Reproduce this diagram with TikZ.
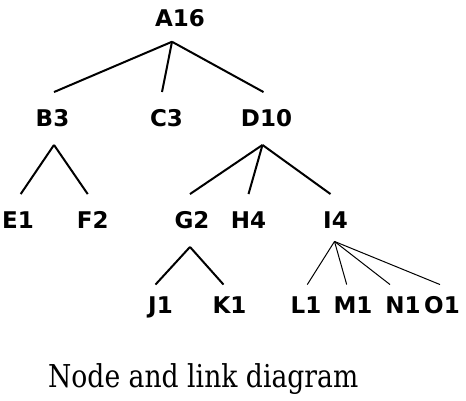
\documentclass[tikz,border=0pt]{standalone}
\usepackage{fontspec}
\setsansfont{DejaVu Sans}
\newfontfamily\captionfont{DejaVu Serif}
\usepackage{tikz}

\begin{document}
\begin{tikzpicture}[x=1pt, y=-1pt,
    tn/.style={font=\sffamily\bfseries\fontsize{23}{25}\selectfont, inner xsep=0pt, inner ysep=18pt, text height=16.5pt, text depth=0pt},
    leaf/.style={tn, inner ysep=12pt},
    link/.style={line width=2pt},
    thinlink/.style={line width=1pt}]

    \useasboundingbox (0,0) rectangle (466,401);

    % Nodes
    \node (A16) [tn, inner ysep=15pt] at (180,18.3) {A16};
    \node (B3) [tn] at (52.5,118.5) {B3};
    \node (C3) [tn] at (166.5,118.5) {C3};
    \node (D10) [tn] at (266.5,118.5) {D10};
    \node (E1) [tn] at (18,220.5) {E1};
    \node (F2) [tn] at (92.7,220.5) {F2};
    \node (G2) [tn] at (192,220.5) {G2};
    \node (H4) [tn] at (248.5,220.5) {H4};
    \node (I4) [tn] at (335.5,220.5) {I4};
    \node (J1) [leaf] at (160.5,305) {J1};
    \node (K1) [leaf] at (229.5,305) {K1};
    \node (L1) [leaf] at (306,305) {L1};
    \node (M1) [leaf] at (353,305) {M1};
    \node (N1) [leaf] at (403,305) {N1};
    \node (O1) [leaf] at (442,305) {O1};

    % Caption
    \node (caption) [font=\captionfont\fontsize{31.5}{34}\selectfont, anchor=base west, inner sep=0pt, xscale=0.845, transform shape] at (48,387.3) {Node and link diagram};

    % Links from A16
    \draw[link] ([xshift=-8pt]A16.south) -- ([xshift=1.5pt]B3.north);
    \draw[link] ([xshift=-8pt]A16.south) -- ([xshift=-4.5pt]C3.north);
    \draw[link] ([xshift=-8pt]A16.south) -- ([xshift=-3pt]D10.north);

    % Links from B3 and D10
    \draw[link] ([xshift=1.5pt]B3.south) -- ([xshift=2.7pt]E1.north);
    \draw[link] ([xshift=1.5pt]B3.south) -- ([xshift=-5pt]F2.north);
    \draw[link] ([xshift=-4pt]D10.south) -- ([xshift=-2pt]G2.north);
    \draw[link] ([xshift=-4pt]D10.south) -- (H4.north);
    \draw[link] ([xshift=-4pt]D10.south) -- ([xshift=-5pt]I4.north);

    % Links from G2
    \draw[link] ([xshift=-2pt]G2.south) -- ([xshift=-5pt]J1.north);
    \draw[link] ([xshift=-2pt]G2.south) -- ([xshift=-6pt]K1.north);

    % Thin links from I4
    \draw[thinlink] ([xshift=-1pt,yshift=5.5pt]I4.south) -- ([xshift=1.3pt]L1.north);
    \draw[thinlink] ([xshift=-1pt,yshift=5.5pt]I4.south) -- ([xshift=-6.3pt]M1.north);
    \draw[thinlink] ([xshift=-1pt,yshift=5.5pt]I4.south) -- ([xshift=-13pt]N1.north);
    \draw[thinlink] ([xshift=-1pt,yshift=5.5pt]I4.south) -- ([xshift=-2pt]O1.north);

\end{tikzpicture}
\end{document}
